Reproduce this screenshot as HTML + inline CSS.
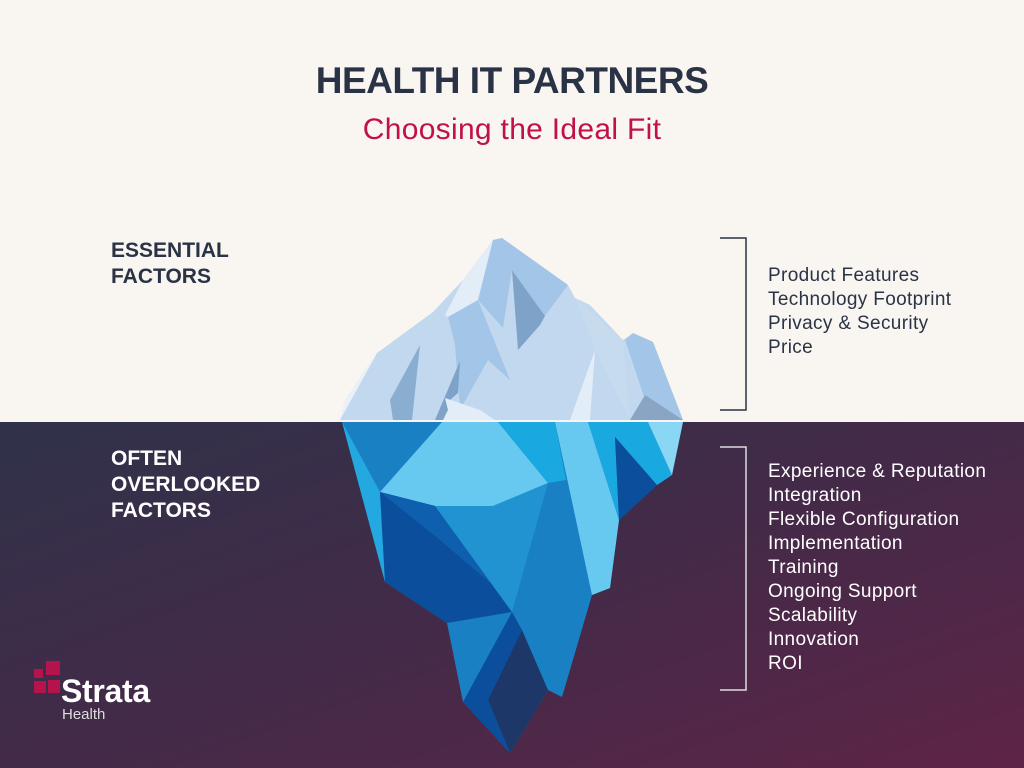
<!DOCTYPE html>
<html><head><meta charset="utf-8"><style>
body{margin:0;width:1024px;height:768px;overflow:hidden;font-family:"Liberation Sans",sans-serif;position:relative;background:#f9f5f1}
.bot{position:absolute;left:0;top:422px;width:1024px;height:346px;background:linear-gradient(160deg,#30324a 0%,#432a48 50%,#5e2447 100%)}
.t{position:absolute;white-space:nowrap}
.h1{left:0;width:1024px;text-align:center;top:60px;font-size:37px;font-weight:bold;color:#2a3346;letter-spacing:-0.5px}
.h2{left:0;width:1024px;text-align:center;top:113px;font-size:30px;color:#c0114a;letter-spacing:0.3px}
.lbl{font-size:21px;font-weight:bold;line-height:26px}
.list{left:768px;font-size:19px;line-height:24px;letter-spacing:0.35px}
</style></head><body>
<div class="bot"></div>
<div class="t h1">HEALTH IT PARTNERS</div>
<div class="t h2">Choosing the Ideal Fit</div>
<div class="t lbl" style="left:111px;top:238px;color:#2a3346">ESSENTIAL<br>FACTORS</div>
<div class="t lbl" style="left:111px;top:446px;color:#fff">OFTEN<br>OVERLOOKED<br>FACTORS</div>
<div class="t list" style="top:264px;color:#2a3346">Product Features<br>Technology Footprint<br>Privacy &amp; Security<br>Price</div>
<div class="t list" style="top:460px;color:#fff">Experience &amp; Reputation<br>Integration<br>Flexible Configuration<br>Implementation<br>Training<br>Ongoing Support<br>Scalability<br>Innovation<br>ROI</div>
<svg width="1024" height="768" style="position:absolute;left:0;top:0">
<g fill="none" stroke-width="1.5">
<path d="M720 238H746V410H720" stroke="#2a3346"/>
<path d="M720 447H746V690H720" stroke="#ddd"/>
</g>
<polygon points="340,420 377,353 433,312 463,280 493,240 502,238 568,285 575,298 590,305 623,340 633,333 653,342 683,420" fill="#c2d8ef"/>
<polygon points="463,280 493,240 490,260 478,300 448,317 445,315" fill="#e2edf8"/>
<polygon points="493,240 502,238 568,285 545,316 512,270 503,328 478,300" fill="#a3c6e8"/>
<polygon points="512,270 545,316 540,325 518,350" fill="#7fa3c8"/>
<polygon points="448,317 478,300 510,380 488,360 460,410 455,345" fill="#a3c6e8"/>
<polygon points="420,345 390,400 393,420 412,420" fill="#8aaed0"/>
<polygon points="460,361 458,393 450,400 455,420 435,420 460,361" fill="#7fa3c8"/>
<polygon points="575,298 623,340 630,420 600,360" fill="#c7dbef"/>
<polygon points="633,333 653,342 683,420 645,400 625,340" fill="#a3c6e8"/>
<polygon points="645,395 683,420 630,420" fill="#8aa4c4"/>
<polygon points="595,350 590,420 570,420" fill="#e2edf8"/>
<polygon points="340,420 375,355 345,400" fill="#e8f0f8"/>
<polygon points="445,398 480,410 495,420 443,420 448,410" fill="#e2edf8"/>
<polygon points="342,422 683,422 672,475 657,485 619,520 610,588 592,595 562,697 548,690 510,753 463,702 447,623 385,582" fill="#1a80c4"/>
<polygon points="342,422 380,492 385,582" fill="#23a8e0"/>
<polygon points="442,422 498,422 548,483 493,506 435,506 380,492" fill="#68c9f0"/>
<polygon points="380,492 435,506 512,612 447,623 385,582" fill="#0a4e9c"/>
<polygon points="380,492 435,506 510,600 440,540" fill="#0e5fae"/>
<polygon points="435,506 493,506 548,483 512,612" fill="#2293d1"/>
<polygon points="512,612 522,630 488,700 510,753 463,702" fill="#0a4e9c"/>
<polygon points="522,630 548,690 510,753 488,700" fill="#1c3768"/>
<polygon points="555,422 588,422 619,520 610,588 592,595" fill="#68c9f0"/>
<polygon points="498,422 555,422 566,480 548,483" fill="#1aa8e0"/>
<polygon points="588,422 648,422 672,475 657,485 615,437 619,520" fill="#1aa8e0"/>
<polygon points="615,437 657,485 619,520" fill="#0a4e9c"/>
<polygon points="648,422 683,422 672,475" fill="#8ad7f5"/>
<g fill="#b5134b">
<rect x="34" y="669" width="9" height="9"/>
<rect x="46" y="661" width="14" height="14"/>
<rect x="34" y="681" width="12" height="12"/>
<rect x="48" y="680" width="12" height="13"/>
</g>
</svg>
<div class="t" style="left:61px;top:673px;font-size:32px;font-weight:bold;color:#fff;letter-spacing:-0.3px">Strata</div>
<div class="t" style="left:62px;top:706px;font-size:15px;color:#ddd">Health</div>
</body></html>
